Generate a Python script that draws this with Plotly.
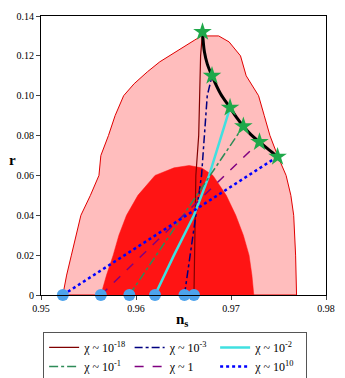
import plotly.graph_objects as go

# 95% / 68% confidence regions (n_s, r)
outer_ns = [0.9523, 0.9527, 0.9532, 0.9537, 0.9542, 0.9552, 0.9561, 0.9563, 0.9571, 0.9578, 0.9587,
            0.9598, 0.9612, 0.9625, 0.9638, 0.9652, 0.9662, 0.9669, 0.9687, 0.9698, 0.9710, 0.9716,
            0.9729, 0.9735, 0.9741, 0.9749, 0.9758, 0.9763, 0.9766, 0.9768, 0.9769, 0.9523]
outer_r = [0.0, 0.01, 0.02, 0.03, 0.04, 0.05, 0.06, 0.07, 0.08, 0.09, 0.10,
           0.106, 0.112, 0.117, 0.121, 0.125, 0.128, 0.130, 0.130, 0.127, 0.12, 0.11,
           0.10, 0.09, 0.08, 0.07, 0.06, 0.05, 0.04, 0.02, 0.0, 0.0]

inner_ns = [0.9563, 0.9569, 0.9576, 0.9582, 0.9590, 0.9602, 0.9620, 0.9640, 0.9656, 0.9669,
            0.9681, 0.9695, 0.9705, 0.9713, 0.9719, 0.9722, 0.9724, 0.9563]
inner_r = [0.0, 0.01, 0.02, 0.03, 0.04, 0.05, 0.06, 0.0638, 0.065, 0.0638,
           0.06, 0.05, 0.04, 0.03, 0.02, 0.01, 0.0, 0.0]

# end points of each chi curve (r = 0) and the stars (end of inflation path)
start_ns = [0.9661, 0.9651, 0.9620, 0.9593, 0.9563, 0.9523]
star_ns = [0.9670, 0.9680, 0.9699, 0.9713, 0.9730, 0.9749]
star_r = [0.132, 0.110, 0.094, 0.0847, 0.0768, 0.0694]

# black curve through the stars
edge_ns = [0.9670, 0.9672, 0.9675, 0.9680, 0.9689, 0.9699, 0.9706, 0.9713, 0.9721, 0.9730, 0.9740, 0.9749]
edge_r = [0.132, 0.122, 0.116, 0.110, 0.101, 0.094, 0.089, 0.0847, 0.0805, 0.0768, 0.0728, 0.0694]

labels = ['χ ~ 10<sup>-18</sup>', 'χ ~ 10<sup>-3</sup>', 'χ ~ 10<sup>-2</sup>',
          'χ ~ 10<sup>-1</sup>', 'χ ~ 1', 'χ ~ 10<sup>10</sup>']
curve_ns = [
    [0.9661, 0.9663, 0.9666, 0.9668, 0.9670],
    [0.9651, 0.9660, 0.9669, 0.9672, 0.9675, 0.9680],
    [0.9620, 0.9640, 0.9661, 0.9677, 0.9699],
    [0.9593, 0.9651, 0.9713],
    [0.9563, 0.9650, 0.9730],
    [0.9523, 0.9653, 0.9749],
]
curve_r = [
    [0.0, 0.06, 0.08, 0.12, 0.132],
    [0.0, 0.03, 0.06, 0.08, 0.10, 0.110],
    [0.0, 0.02, 0.04, 0.06, 0.094],
    [0.0, 0.041, 0.0847],
    [0.0, 0.040, 0.0768],
    [0.0, 0.040, 0.0694],
]
colors = ['#800000', '#000080', '#40E0E0', '#2E8B57', '#800080', '#0000FF']
dashes = ['solid', '8px,3px,3px,3px', 'solid', 'dashdot', 'dash', 'dot']
widths = [1.2, 1.5, 2.5, 1.5, 1.5, 2.5]

serif = 'Liberation Serif, Times New Roman, serif'

fig = go.Figure()
fig.add_trace(go.Scatter(x=outer_ns, y=outer_r, mode='lines', fill='toself',
                         fillcolor='#FFBDBD', line=dict(color='#E00000', width=1), showlegend=False))
fig.add_trace(go.Scatter(x=inner_ns, y=inner_r, mode='lines', fill='toself',
                         fillcolor='#FF1414', line=dict(color='#FF1414', width=0.5), showlegend=False))

for i in range(6):
    fig.add_trace(go.Scatter(x=curve_ns[i], y=curve_r[i], mode='lines', name=labels[i],
                             line=dict(color=colors[i], dash=dashes[i], width=widths[i])))

fig.add_trace(go.Scatter(x=edge_ns, y=edge_r, mode='lines', line=dict(color='black', width=3),
                         line_shape='spline', showlegend=False))
fig.add_trace(go.Scatter(x=star_ns, y=star_r, mode='markers', showlegend=False,
                         marker=dict(symbol='star', size=14, color='#1FA84A'), cliponaxis=False))
fig.add_trace(go.Scatter(x=start_ns, y=[0] * 6, mode='markers', showlegend=False,
                         marker=dict(symbol='circle', size=12, color='#4DA3EC'), cliponaxis=False))

axis_font = dict(family=serif, size=10, color='black')
fig.update_xaxes(range=[0.95, 0.98], tickvals=[0.95, 0.96, 0.97, 0.98],
                 ticktext=['0.95', '0.96', '0.97', '0.98'], ticks='outside', ticklen=4,
                 showline=True, linecolor='black', mirror=True, showgrid=False, zeroline=False,
                 tickfont=axis_font)
fig.update_yaxes(range=[0, 0.14], tickvals=[0, 0.02, 0.04, 0.06, 0.08, 0.10, 0.12, 0.14],
                 ticktext=['0', '0.02', '0.04', '0.06', '0.08', '0.10', '0.12', '0.14'],
                 ticks='outside', ticklen=4, showline=True, linecolor='black', mirror=True,
                 showgrid=False, zeroline=False, tickfont=axis_font)

fig.add_annotation(text='<b>r</b>', xref='paper', yref='paper', x=-0.1, y=0.484,
                   xanchor='center', yanchor='middle', showarrow=False,
                   font=dict(family=serif, size=15, color='black'))
fig.add_annotation(text='<b>n<sub>s</sub></b>', xref='paper', yref='paper', x=0.495, y=-0.088,
                   xanchor='center', yanchor='middle', showarrow=False,
                   font=dict(family=serif, size=15, color='black'))

fig.update_layout(
    width=345, height=378,
    margin=dict(l=41, r=13, t=10, b=83),
    plot_bgcolor='white', paper_bgcolor='white',
    font=dict(family=serif),
    legend=dict(orientation='h', xref='container', yref='container', x=0.125, y=0.122,
                xanchor='left', yanchor='top',
                bordercolor='#555555', borderwidth=1, entrywidth=0.3, entrywidthmode='fraction',
                itemwidth=30, tracegroupgap=0,
                font=dict(family=serif, size=12, color='black')),
)
# page body has a default 8px margin; drop it so the figure fills the window
fig.write_html("out.html", config={'displayModeBar': False},
               post_script="document.body.style.margin='0';")
